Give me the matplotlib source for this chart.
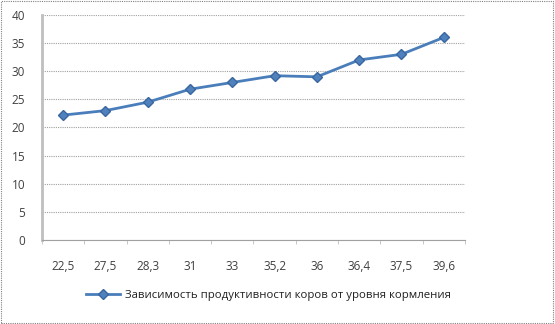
import matplotlib.pyplot as plt
import numpy as np
from matplotlib.patches import Rectangle

plt.rcParams['font.family'] = ['Open Sans', 'DejaVu Sans']

categories = ["22,5", "27,5", "28,3", "31", "33", "35,2", "36", "36,4", "37,5", "39,6"]
values = [22.2, 23.0, 24.5, 26.8, 28.0, 29.2, 29.0, 32.0, 33.0, 36.0]
series_name = "Зависимость продуктивности коров от уровня кормления"

fig = plt.figure(figsize=(5.55, 3.24), dpi=100)
ax = fig.add_axes([0.0757, 0.259, 0.762, 0.695])

x = np.arange(len(categories))
ax.plot(x, values, color='#4A7EBB', lw=2, marker='D', ms=5,
        markerfacecolor='#4F81BD', markeredgecolor='#3A66A0', label=series_name)

ax.set_xlim(-0.5, len(categories) - 0.5)
ax.set_ylim(0, 40)
ax.set_yticks(range(0, 41, 5))
ax.set_xticks(x)
ax.set_xticklabels(categories)
ax.set_xticks(np.arange(-0.5, len(categories), 1), minor=True)
ax.tick_params(axis='x', which='major', length=0, pad=14, labelsize=8.5, colors='#404040')
ax.tick_params(axis='x', which='minor', length=3, direction='out', color='#BFBFBF')
ax.tick_params(axis='y', length=0, pad=12, labelsize=8.5, colors='#404040')

ax.grid(axis='y', color='#A0A0A0', ls=(0, (1, 1)), lw=0.8)
for s in ['top', 'right']:
    ax.spines[s].set_visible(False)
ax.spines['left'].set_color('#BFBFBF')
ax.spines['left'].set_linewidth(2)
ax.spines['bottom'].set_color('#A0A0A0')
ax.spines['bottom'].set_linestyle((0, (1, 1)))
ax.spines['bottom'].set_linewidth(0.8)
ax.set_axisbelow(True)

fig.legend(loc='center', bbox_to_anchor=(0.484, 0.087), frameon=False,
           fontsize=8.2, handlelength=3, handletextpad=0.4, labelcolor='#202020')

fig.patches.append(Rectangle((0.002, 0.003), 0.995, 0.994, transform=fig.transFigure,
                             fill=False, edgecolor='#808080', lw=0.8, ls=(0, (1, 1))))

fig.savefig('out.png', dpi=100)
